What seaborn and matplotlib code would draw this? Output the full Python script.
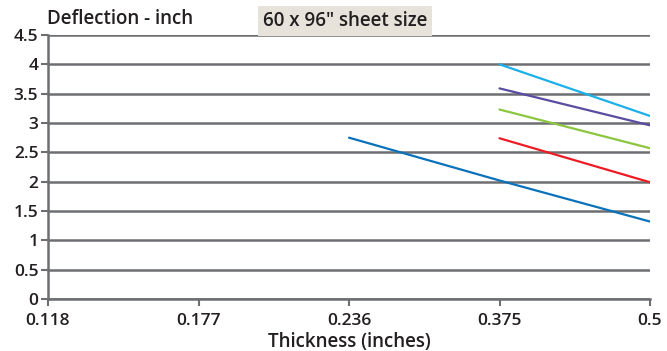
import pandas as pd
import seaborn as sns
import matplotlib.pyplot as plt

# grubosc arkusza (os x jest kategoryczna, rowne odstepy)
thickness = ["0.118", "0.177", "0.236", "0.375", "0.5"]

# ugiecie w calach dla kolejnych serii (None = brak punktu)
series_dark_blue = [None, None, 2.75, 2.02, 1.32]
series_red = [None, None, None, 2.74, 1.99]
series_green = [None, None, None, 3.23, 2.57]
series_purple = [None, None, None, 3.59, 2.96]
series_light_blue = [None, None, None, 4.0, 3.12]

y_ticks = [0, 0.5, 1, 1.5, 2, 2.5, 3, 3.5, 4, 4.5]

sns.set_style("white")
plt.rcParams["font.family"] = ["Open Sans", "DejaVu Sans"]
plt.rcParams["font.weight"] = "semibold"

grey = "#6d6e71"
text_col = "#231f20"
waga = "semibold"

fig = plt.figure(figsize=(6.67, 3.51), dpi=100)
ax = fig.add_axes([48 / 667, 1 - 299 / 351, (650 - 48) / 667, (299 - 35) / 351])

seria = [
    (series_dark_blue, "#0a72ba"),
    (series_red, "#ed1c24"),
    (series_green, "#8cc63f"),
    (series_purple, "#5a4ca1"),
    (series_light_blue, "#1ab0ea"),
]
pos = list(range(len(thickness)))
for vals, col in seria:
    df = pd.DataFrame({"x": pos, "y": vals}).dropna()
    sns.lineplot(data=df, x="x", y="y", color=col, linewidth=1.6, ax=ax, zorder=3)

ax.set_xlim(0, len(thickness) - 1)
ax.set_ylim(0, 4.5)
ax.set_xticks(pos)
ax.set_xticklabels(thickness, fontweight=waga)
ax.set_yticks(y_ticks)
ax.set_yticklabels([f"{v:g}" for v in y_ticks], fontweight=waga)
ax.yaxis.grid(True, color=grey, linewidth=1.8)
ax.xaxis.grid(False)
ax.set_axisbelow(True)

for s in ["top", "right"]:
    ax.spines[s].set_visible(False)
for s in ["left", "bottom"]:
    ax.spines[s].set_color(grey)
    ax.spines[s].set_linewidth(1.8)

ax.tick_params(axis="both", colors=grey, length=5, width=1.5, labelsize=12.5,
               labelcolor=text_col, direction="out", left=True, bottom=True)
ax.tick_params(axis="x", pad=5)
ax.tick_params(axis="y", pad=2)

ax.set_xlabel("Thickness (inches)", fontsize=13.5, color=text_col, labelpad=2,
              fontweight=waga)
ax.set_ylabel("")

fig.text(47 / 667, 1 - 19 / 351, "Deflection - inch", fontsize=13.5,
         color=text_col, va="center", ha="left", fontweight=waga)
fig.text(263 / 667, 1 - 21 / 351, "60 x 96\u2033 sheet size", fontsize=13.5,
         color=text_col, va="center", ha="left", fontweight=waga,
         bbox=dict(boxstyle="square,pad=0.25", facecolor="#e7e3db", edgecolor="none"))

fig.savefig("out.png", dpi=100)
